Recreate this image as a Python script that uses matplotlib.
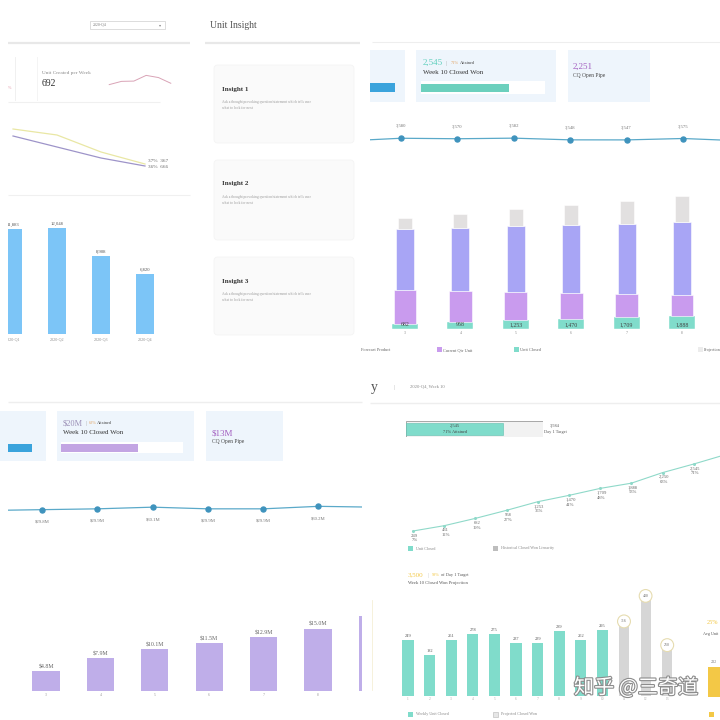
import matplotlib
matplotlib.use("Agg")
import matplotlib.pyplot as plt
import matplotlib.patheffects as pe
from matplotlib.patches import Rectangle, FancyBboxPatch

# ---- data ----
quarters = ["2020-Q1", "2020-Q2", "2020-Q3", "2020-Q4"]
units_created_q = [11883, 12048, 8908, 6820]
weekly_created = [668, 680, 681, 702, 694, 673]
unit_created_per_week = 692
rate_a = [54.5, 51.5, 43, 37]
rate_b = [51, 45.5, 40, 36]
rate_end_labels = ["37%  367", "36%  666"]

insights = ["Insight 1", "Insight 2", "Insight 3"]
insight_text = "Ask a thought provoking question/statement which tells user\nwhat to look for next"

line_weeks = [2, 3, 4, 5, 6, 7, 8, 9]
shown_weeks = [3, 4, 5, 6, 7, 8]
units_line = [3525, 3580, 3570, 3582, 3548, 3547, 3575, 3530]
current_qtr_unit = [4970, 4550, 4120, 3760, 3360, 3050]
forecast_product = [8850, 9140, 9570, 9860, 10150, 10590]
projection = [1600, 2030, 2470, 2900, 3340, 3770]
closed_won_units = 2545
day1_target = 3584
cq_open_pipe_units = 2251

pipe_musd = [29.7, 29.8, 29.9, 30.1, 29.9, 29.9, 30.2, 30.1]
bar_weeks_usd = [3, 4, 5, 6, 7, 8, 9]
closed_won_musd = [4.8, 7.9, 10.1, 11.5, 12.9, 15.0, 18.0]
closed_won_usd = 20
attained_usd_pct = 63
cq_open_pipe_usd = 13

cum_weeks = list(range(1, 12))
cum_closed = [249, 431, 682, 958, 1253, 1470, 1709, 1888, 2250, 2545, 2861]
weekly_weeks = list(range(1, 11))
weekly_closed = [249, 182, 251, 278, 275, 237, 239, 289, 252, 295]
proj_weeks = [11, 12, 13]
proj_closed = [316, 430, 210]
projection_total = 3500
avg_unit = 232

TEAL = "#80dccb"
PURPLE = "#c99bee"
LAVENDER = "#a8a5f5"
LGRAY = "#e2e0e0"
CARD = "#eef5fc"
LINE = "#5aa9c9"
YELLOW = "#f3c846"

plt.rcParams["font.family"] = ["Liberation Serif", "DejaVu Sans"]

W = H = 720
fig = plt.figure(figsize=(7.2, 7.2), dpi=100)
bg = fig.add_axes([0, 0, 1, 1])
bg.set_xlim(0, W)
bg.set_ylim(H, 0)
bg.set_axis_off()


def px_axes(x0, y0, x1, y1, z=1):
    ax = fig.add_axes([x0 / W, 1 - y1 / H, (x1 - x0) / W, (y1 - y0) / H], zorder=z)
    ax.set_axis_off()
    return ax


def xspan(a, b, p0, v0, per_px):
    return v0 - (p0 - a) * per_px, v0 + (b - p0) * per_px


def yspan(a, b, p0, v0, per_px):
    return v0 - (b - p0) * per_px, v0 + (p0 - a) * per_px


def box(x0, y0, x1, y1, fc, ec="none", lw=0.6):
    bg.add_patch(Rectangle((x0, y0), x1 - x0, y1 - y0, fc=fc, ec=ec, lw=lw))


def hline(y, x0, x1, c="#ececec", lw=1.2):
    bg.plot([x0, x1], [y, y], color=c, lw=lw, solid_capstyle="butt")


def txt(x, y, s, size=4, c="#555555", **kw):
    kw.setdefault("va", "center")
    return bg.text(x, y, s, fontsize=size, color=c, **kw)


# ================= top-left: unit overview =================
box(90, 21, 165, 29, "white", "#cfcfcf", 0.5)
txt(93, 25, "2020-Q4", 2.8, "#777")
txt(159, 25, "▾", 3, "#888")
hline(43, 8, 190, "#e8e8e8", 1.6)
bg.plot([15, 15], [57, 100], color="#eeeeee", lw=0.6)
bg.plot([37, 37], [57, 100], color="#f2f2f2", lw=0.6)
txt(8, 88, "%", 3, "#e39aa9")
txt(42, 73, "Unit Created per Week", 3.8, "#888")
txt(42, 83, f"{unit_created_per_week}", 7, "#333")
hline(102, 8, 160, "#f0f0f0", 0.8)
hline(195, 8, 190, "#f0f0f0", 0.8)

ax = px_axes(108, 74, 172, 86)
ax.plot(range(len(weekly_created)), weekly_created, color="#d9a3b6", lw=0.7)
ax.margins(0.02, 0.15)

ax = px_axes(8, 115, 192, 175)
ax.set_xlim(xspan(8, 192, 13, 0, 1 / 44))
ax.set_ylim(yspan(115, 175, 166, 36, 0.5))
ax.plot(range(4), rate_a, color="#e9e7a4", lw=0.9)
ax.plot(range(4), rate_b, color="#9e94c9", lw=0.9)
ax.annotate(rate_end_labels[0], (3, rate_a[-1]), xytext=(2, 2), textcoords="offset points",
            fontsize=3.8, color="#666", va="center")
ax.annotate(rate_end_labels[1], (3, rate_b[-1]), xytext=(2, -0.5), textcoords="offset points",
            fontsize=3.8, color="#666", va="center")

ax = px_axes(8, 200, 192, 345)
per = 113.7
ax.set_xlim(xspan(8, 192, 13, 0, 1 / 44))
ax.set_ylim(yspan(200, 345, 334, 0, per))
ax.bar(range(4), units_created_q, width=0.43, color="#7cc5f7")
for i, v in enumerate(units_created_q):
    ax.text(i, v + 2 * per, f"{v:,}", ha="center", va="bottom", fontsize=3.4, color="#555", clip_on=True)
    ax.text(i, -5 * per, quarters[i], ha="center", va="center", fontsize=3.0, color="#888", clip_on=True)

# insight column
txt(210, 25, "Unit Insight", 7, "#555")
hline(43, 205, 360, "#e8e8e8", 1.6)
for i, (y0, y1) in enumerate([(65, 143), (160, 240), (257, 335)]):
    bg.add_patch(FancyBboxPatch((214, y0), 140, y1 - y0, boxstyle="round,pad=0,rounding_size=4",
                                fc="#fafafa", ec="#f4f4f4", lw=0.6))
    txt(222, y0 + 24, insights[i], 5, "#333", weight="bold")
    txt(222, y0 + 40, insight_text, 2.6, "#999", linespacing=1.5)

# ================= top-right: units funnel =================
hline(42, 372, 720, "#eeeeee", 0.8)
box(370, 50, 405, 102, CARD)
box(370, 83, 395, 92, "#3aa3dc")
box(416, 50, 556, 102, CARD)
txt(423, 63, f"{closed_won_units:,}", 6.5, "#5fcfbd")
txt(446, 63, "|", 4.5, "#999")
txt(451, 63, f"{round(100 * closed_won_units / day1_target)}%", 3.2, "#e3a86b")
txt(460, 63, "Attained", 3.2, "#444")
txt(423, 72, "Week 10 Closed Won", 5, "#333")
box(421, 81, 545, 94, "white")
ax = px_axes(421, 84, 545, 92)
ax.set_xlim(0, day1_target)
ax.set_ylim(0, 1)
ax.barh(0.5, closed_won_units, height=1, color="#6cd0bd")
box(568, 50, 650, 102, CARD)
txt(573, 67, f"{cq_open_pipe_units:,}", 6.5, "#a35fc0")
txt(573, 76, "CQ Open Pipe", 4, "#444")

ax = px_axes(370, 110, 720, 160)
ax.set_xlim(xspan(370, 720, 401, 3, 1 / 56.4))
ax.set_ylim(yspan(110, 160, 139, 3565, 20))
ax.plot(line_weeks, units_line, color=LINE, lw=0.9, marker="o", ms=3.6, mfc="#3f93bd", mec="#3f93bd")
for w, v in zip(line_weeks, units_line):
    if w in shown_weeks:
        ax.annotate(f"{v:,}", (w, v), xytext=(0, 8.6), textcoords="offset points",
                    ha="center", va="center", fontsize=3.4, color="#777")

ax = px_axes(370, 185, 720, 340)
per = 145
ax.set_xlim(xspan(370, 720, 405, 3, 1 / 55.4))
ax.set_ylim(yspan(185, 340, 329, 0, per))
closed = cum_closed[2:8]
b2 = [a + b for a, b in zip(closed, current_qtr_unit)]
b3 = [a + b for a, b in zip(b2, forecast_product)]
ax.bar(shown_weeks, closed, width=0.47, color=TEAL, ec="white", lw=0.3)
ax.bar(shown_weeks, current_qtr_unit, bottom=closed, width=0.415, color=PURPLE, ec="white", lw=0.4)
ax.bar(shown_weeks, forecast_product, bottom=b2, width=0.325, color=LAVENDER, ec="white", lw=0.4)
ax.bar(shown_weeks, projection, bottom=b3, width=0.253, color=LGRAY, ec="white", lw=0.4)
for w, v in zip(shown_weeks, closed):
    ax.text(w, 4 * per, f"{v:,}", ha="center", va="center", fontsize=4.2, color="#444")
    ax.text(w, -3.5 * per, str(w), ha="center", va="center", fontsize=2.8, color="#888")

txt(390, 350, "Forecast Product", 3.2, "#666", ha="right")
for x, c, name in [(437, PURPLE, "Current Qtr Unit"), (514, TEAL, "Unit Closed"), (698, "#ececec", "Projection")]:
    box(x, 347, x + 5, 352, c)
    txt(x + 6, 350, name, 3.0 if name == "Projection" else 3.2, "#666")

# ================= bottom-left: closed won $ =================
hline(402, 8, 362, "#eeeeee", 1.0)
box(0, 411, 46, 461, CARD)
box(8, 444, 32, 452, "#3aa3dc")
box(57, 411, 194, 461, CARD)
txt(63, 423, f"${closed_won_usd}M", 6, "#9b8fb6")
txt(85, 423, "|", 4.5, "#999")
txt(89, 423, f"{attained_usd_pct}%", 3.2, "#e3a86b")
txt(97, 423, "Attained", 3.2, "#444")
txt(63, 432, "Week 10 Closed Won", 5, "#333")
box(61, 442, 183, 453, "white")
ax = px_axes(61, 444, 183, 452)
ax.set_xlim(0, closed_won_usd / (attained_usd_pct / 100))
ax.set_ylim(0, 1)
ax.barh(0.5, closed_won_usd, height=1, color="#c3a5e3")
box(206, 411, 283, 461, CARD)
txt(212, 433, f"${cq_open_pipe_usd}M", 6.5, "#a35fc0")
txt(212, 442, "CQ Open Pipe", 4, "#444")

ax = px_axes(8, 490, 362, 530)
ax.set_xlim(xspan(8, 362, 42, 3, 1 / 55.3))
ax.set_ylim(yspan(490, 530, 508, 30.0, 0.12))
ax.plot(line_weeks, pipe_musd, color=LINE, lw=0.9, marker="o", ms=3.6, mfc="#3f93bd", mec="#3f93bd")
for w, v in zip(line_weeks, pipe_musd):
    if w in shown_weeks:
        ax.annotate(f"${v:.1f}M", (w, v), xytext=(0, -8.6), textcoords="offset points",
                    ha="center", va="center", fontsize=3.4, color="#777")

ax = px_axes(8, 600, 362, 705)
per = 0.24
ax.set_xlim(xspan(8, 362, 46, 3, 1 / 54.4))
ax.set_ylim(yspan(600, 705, 691, 0, per))
ax.bar(bar_weeks_usd, closed_won_musd, width=0.5, color="#bfaee9")
for w, v in zip(bar_weeks_usd, closed_won_musd):
    if w in shown_weeks:
        ax.text(w, v + 1.5 * per, f"${v:.1f}M", ha="center", va="bottom", fontsize=4.2, color="#666")
        ax.text(w, -4 * per, str(w), ha="center", va="center", fontsize=2.8, color="#999")

# ================= bottom-right: closed won linearity =================
txt(371, 387, "y", 10, "#555")
txt(393, 387, "|", 5, "#bbb")
txt(410, 387, "2020-Q4, Week 10", 3.3, "#888")
hline(403, 370, 720, "#eeeeee", 1.0)

ax = px_axes(406, 421, 543, 437)
ax.set_xlim(0, day1_target)
ax.set_ylim(0, 1)
ax.barh(0.5, day1_target, height=1, color="#f2f2f2", ec="#9a9a9a", lw=0.6)
ax.barh(0.5, closed_won_units, height=0.72, color=TEAL, ec="#5fbfae", lw=0.4)
ax.text(closed_won_units / 2, 0.7, f"{closed_won_units:,}", ha="center", va="center", fontsize=3.2, color="#444")
ax.text(closed_won_units / 2, 0.32, f"{round(100 * closed_won_units / day1_target)}% Attained",
        ha="center", va="center", fontsize=3.2, color="#444")
txt(555, 426, f"{day1_target:,}", 3.2, "#555", ha="center")
txt(555, 432, "Day 1 Target", 3.2, "#555", ha="center")

ax = px_axes(370, 440, 720, 545)
ax.set_xlim(xspan(370, 720, 413, 1, 1 / 31.2))
ax.set_ylim(yspan(440, 545, 531, 249, 34.27))
ax.plot(cum_weeks, cum_closed, color="#8fd9c9", lw=0.8, marker="o", ms=1.2)
for w, v in zip(cum_weeks[:10], cum_closed[:10]):
    ax.annotate(f"{v:,}\n{round(100 * v / day1_target)}%", (w, v), xytext=(1, -2),
                textcoords="offset points", ha="center", va="top", fontsize=3.3,
                color="#666", linespacing=1.15)
box(408, 546, 413, 551, TEAL)
txt(416, 548.5, "Unit Closed", 3, "#888")
box(493, 546, 498, 551, "#bdbdbd")
txt(501, 548.5, "Historical Closed Won Linearity", 3, "#888")

txt(408, 575, f"{projection_total:,}", 5, YELLOW)
txt(428, 575, "|", 4, "#bbb")
txt(432, 575, f"{round(100 * projection_total / day1_target)}%", 3.2, YELLOW)
txt(441, 575, "of Day 1 Target", 3.2, "#555")
txt(408, 583, "Week 10 Closed Won Projection", 3.3, "#555")
bg.plot([372, 372], [600, 690], color="#f5efd6", lw=0.6)

ax = px_axes(390, 585, 700, 705)
per = 4.47
ax.set_xlim(xspan(390, 700, 408, 1, 1 / 21.6))
ax.set_ylim(yspan(585, 705, 696, 0, per))
ax.bar(weekly_weeks, weekly_closed, width=0.51, color=TEAL)
ax.bar(proj_weeks, proj_closed, width=0.46, color="#d6d6d6")
for w, v in zip(weekly_weeks, weekly_closed):
    ax.text(w, v + 2 * per, str(v), ha="center", va="bottom", fontsize=3.2, color="#555")
for w, v in zip(proj_weeks, proj_closed):
    ax.annotate(str(v), (w, v), xytext=(0, 2.8), textcoords="offset points", ha="center", va="center",
                fontsize=2.8, color="#666",
                bbox=dict(boxstyle="circle,pad=0.9", fc="white", ec="#e6dcb0", lw=0.8))
for w in weekly_weeks + proj_weeks:
    ax.text(w, -3 * per, str(w), ha="center", va="center", fontsize=2.6, color="#aaa")
box(408, 712, 413, 717, TEAL)
txt(416, 714.5, "Weekly Unit Closed", 3, "#888")
box(493, 712, 498, 717, "#e6e6e6", "#b5b5b5", 0.4)
txt(501, 714.5, "Projected Closed Won", 3, "#888")

# narrow yellow card at the right edge
txt(707, 623, "25%", 4.5, YELLOW)
txt(703, 634, "Avg Unit", 3, "#555")
ax = px_axes(708, 667, 732, 697)
ax.set_xlim(-0.5, 0.5)
ax.set_ylim(0, avg_unit)
ax.bar([0], [avg_unit], width=1, color=YELLOW)
txt(711, 662, f"{avg_unit}", 3, "#777")
box(709, 712, 714, 717, YELLOW)

# watermark
top = fig.add_axes([0, 0, 1, 1], zorder=20)
top.set_xlim(0, W)
top.set_ylim(H, 0)
top.set_axis_off()
top.text(636, 688, "知乎 @三奇道", fontsize=14.5, color="white", ha="center", va="center",
         family=["Noto Sans CJK SC", "DejaVu Sans"],
         path_effects=[pe.withStroke(linewidth=1.6, foreground="#8c8c8c")])

fig.savefig("out.png", dpi=100)
